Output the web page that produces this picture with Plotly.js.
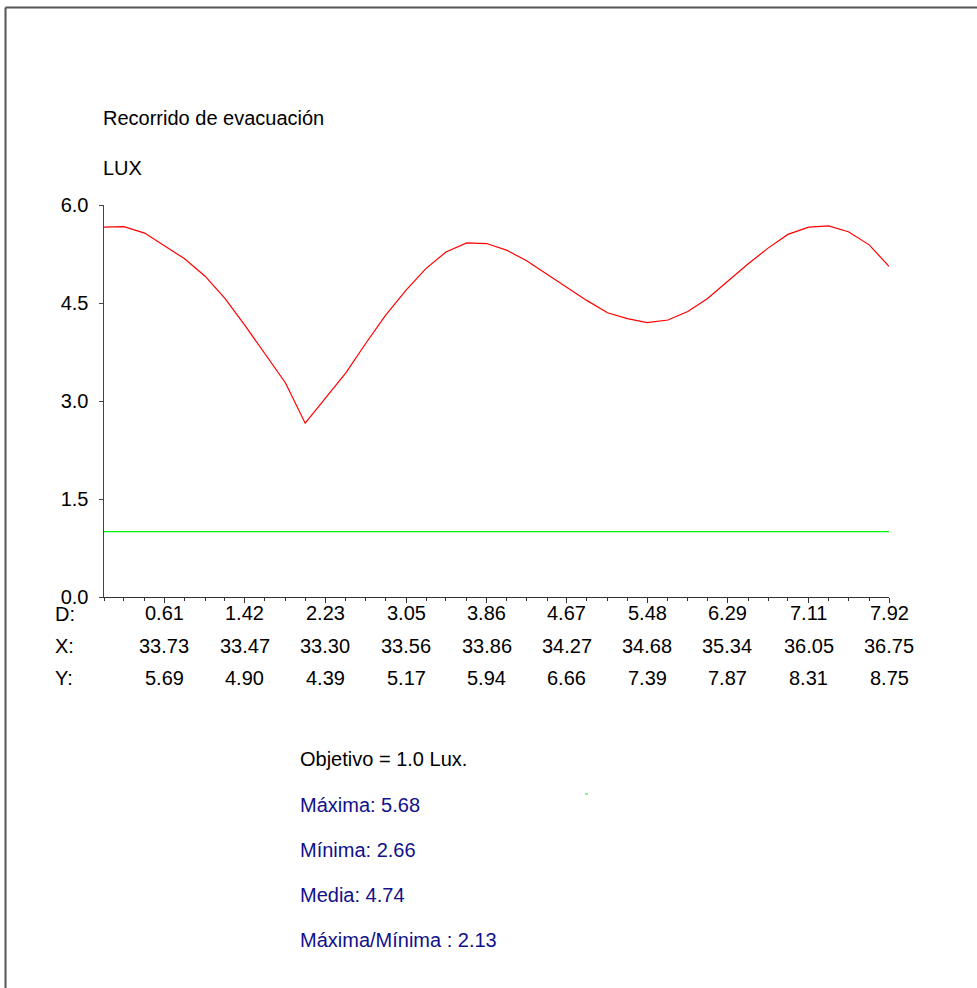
<!DOCTYPE html>
<html>
<head>
<meta charset="utf-8">
<script src="https://cdn.plot.ly/plotly-3.0.1.min.js"></script>
<style>html,body{margin:0;padding:0;background:#fff;}#chart{width:977px;height:988px;}</style>
</head>
<body>
<div id="chart"></div>
<script>
// Distance along the route (m) of each measured point
const distances = [0.00, 0.20, 0.41, 0.61, 0.81, 1.02, 1.22, 1.42, 1.62, 1.83,
                   2.03, 2.23, 2.44, 2.64, 2.84, 3.05, 3.25, 3.45, 3.66, 3.86,
                   4.06, 4.26, 4.47, 4.67, 4.87, 5.08, 5.28, 5.48, 5.69, 5.89,
                   6.09, 6.29, 6.50, 6.70, 6.90, 7.11, 7.31, 7.51, 7.72, 7.92];
// Illuminance (lux) at each point
const lux = [5.66, 5.67, 5.57, 5.38, 5.18, 4.91, 4.57, 4.16, 3.73, 3.28,
             2.66, 3.03, 3.43, 3.88, 4.31, 4.70, 5.03, 5.28, 5.42, 5.41,
             5.31, 5.15, 4.94, 4.73, 4.54, 4.35, 4.26, 4.20, 4.24, 4.37,
             4.57, 4.83, 5.10, 5.34, 5.55, 5.66, 5.68, 5.59, 5.39, 5.06];
// Objective line
const objetivoX = [0.00, 7.92];
const objetivoY = [1.0, 1.0];
// Labelled ticks (D, X, Y rows)
const tickD = ["0.61", "1.42", "2.23", "3.05", "3.86", "4.67", "5.48", "6.29", "7.11", "7.92"];
const tickX = ["33.73", "33.47", "33.30", "33.56", "33.86", "34.27", "34.68", "35.34", "36.05", "36.75"];
const tickY = ["5.69", "4.90", "4.39", "5.17", "5.94", "6.66", "7.39", "7.87", "8.31", "8.75"];
const yTicks = [0, 1.5, 3.0, 4.5, 6.0];
const yTickText = ["0.0", "1.5", "3.0", "4.5", "6.0"];
// Texts
const titleText = "Recorrido de evacuación";
const unitText = "LUX";
const statsLines = ["Objetivo = 1.0 Lux.", "Máxima: 5.68", "Mínima: 2.66", "Media: 4.74", "Máxima/Mínima : 2.13"];

// ---- layout helpers ----
const W = 977, H = 988;
const L = 104, R = 889, T = 205, B = 597;
const px = x => (x - L) / (R - L);
const py = y => 1 - (y - T) / (B - T);
const FONT = "Liberation Sans, Arial, Helvetica, sans-serif";
const FS = 20;

const annotations = [];
function addText(text, x, y, color, xanchor, xref) {
  annotations.push({
    text: text, x: x, y: y, xref: xref || 'paper', yref: 'paper',
    xanchor: xanchor || 'left', yanchor: 'middle', showarrow: false,
    borderpad: 0, xshift: (xanchor === 'center') ? 0 : -2,
    font: {family: FONT, size: FS, color: color || '#000'}
  });
}
addText(titleText, px(104), py(118));
addText(unitText, px(104), py(168));
addText("D:", px(56), py(614));
addText("X:", px(56), py(646));
addText("Y:", px(56), py(678));
const tickPos = tickD.map(Number);
tickPos.forEach((d, i) => {
  addText(tickD[i], d, py(613), '#000', 'center', 'x');
  addText(tickX[i], d, py(646), '#000', 'center', 'x');
  addText(tickY[i], d, py(678), '#000', 'center', 'x');
});
const statY = [759, 805, 850, 895, 940];
statsLines.forEach((s, i) => addText(s, px(301), py(statY[i]), i === 0 ? '#000' : '#10108a'));

const shapes = [
  // page frame (left and top)
  {type: 'line', xref: 'paper', yref: 'paper', x0: px(5.5), x1: px(5.5), y0: py(7.5), y1: py(990), line: {color: '#555', width: 2}},
  {type: 'line', xref: 'paper', yref: 'paper', x0: px(5.5), x1: px(980), y0: py(7.5), y1: py(7.5), line: {color: '#555', width: 2}},
  // small green mark
  {type: 'line', xref: 'paper', yref: 'paper', x0: px(585), x1: px(588), y0: py(794), y1: py(794), line: {color: '#00ee00', width: 1}}
];

const traces = [
  {x: objetivoX, y: objetivoY, mode: 'lines', line: {color: '#00f000', width: 1.4}, hoverinfo: 'skip'},
  {x: distances, y: lux, mode: 'lines', line: {color: '#ff0000', width: 1.2}, hoverinfo: 'skip'}
];

const layout = {
  width: W, height: H,
  margin: {l: L, r: W - R, t: T, b: H - B, pad: 0},
  paper_bgcolor: '#fff', plot_bgcolor: '#fff',
  showlegend: false,
  font: {family: FONT, size: FS, color: '#000'},
  xaxis: {
    range: [0, 7.92], showgrid: false, zeroline: false,
    showline: true, linecolor: '#333', linewidth: 1,
    tickmode: 'array', tickvals: tickPos, ticks: 'outside', ticklen: 5, tickcolor: '#333',
    showticklabels: false,
    minor: {tickmode: 'array', tickvals: distances, ticks: 'outside', ticklen: 3, tickcolor: '#333', showgrid: false}
  },
  yaxis: {
    range: [0, 6], showgrid: false, zeroline: false,
    showline: true, linecolor: '#444', linewidth: 1.5,
    tickmode: 'array', tickvals: yTicks, ticktext: yTickText,
    ticks: 'outside', ticklen: 4, tickcolor: '#444', ticklabelstandoff: 6,
    tickfont: {family: FONT, size: FS, color: '#000'}
  },
  annotations: annotations,
  shapes: shapes
};

Plotly.newPlot('chart', traces, layout, {displayModeBar: false, staticPlot: true});
</script>
</body>
</html>
